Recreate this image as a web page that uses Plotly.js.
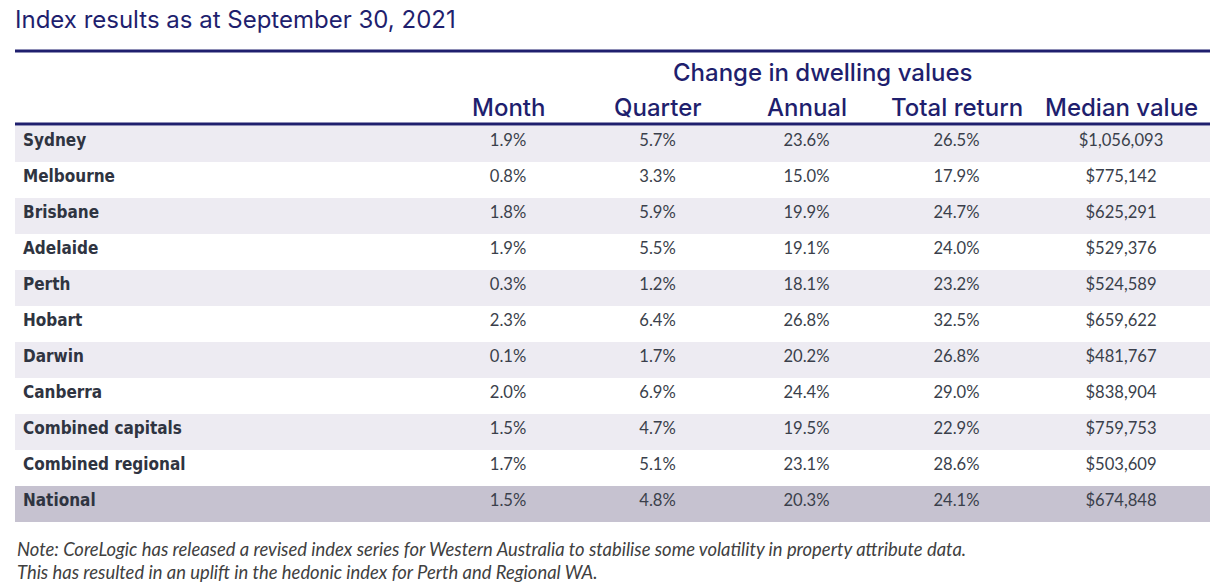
<!DOCTYPE html>
<html><head><meta charset="utf-8">
<script src="https://cdn.plot.ly/plotly-3.0.1.min.js"></script>
<style>html,body{margin:0;padding:0;background:#fff}#chart{width:1217px;height:586px}</style>
</head><body><div id="chart"></div>
<script>
const regions = ['Sydney','Melbourne','Brisbane','Adelaide','Perth','Hobart','Darwin','Canberra','Combined capitals','Combined regional','National'];
const monthChange = [1.9,0.8,1.8,1.9,0.3,2.3,0.1,2.0,1.5,1.7,1.5];
const quarterChange = [5.7,3.3,5.9,5.5,1.2,6.4,1.7,6.9,4.7,5.1,4.8];
const annualChange = [23.6,15.0,19.9,19.1,18.1,26.8,20.2,24.4,19.5,23.1,20.3];
const totalReturn = [26.5,17.9,24.7,24.0,23.2,32.5,26.8,29.0,22.9,28.6,24.1];
const medianValue = [1056093,775142,625291,529376,524589,659622,481767,838904,759753,503609,674848];
const columnHeaders = ['', 'Month', 'Quarter', 'Annual', 'Total return', 'Median value'];
const groupHeader = 'Change in dwelling values';
const noteLines = [
  'Note: CoreLogic has released a revised index series for Western Australia to stabilise some volatility in property attribute data.',
  'This has resulted in an uplift in the hedonic index for Perth and Regional WA.'
];

const W = 1217, H = 586;
const navy = '#1f1f6e';
const pct = a => a.map(v => v.toFixed(1) + '%');
const money = a => a.map(v => '$' + v.toLocaleString('en-US'));

const rowFill = regions.map((r, i) => r === 'National' ? '#c6c2d0' : (i % 2 === 0 ? '#edebf2' : '#ffffff'));
const fills = columnHeaders.map(() => rowFill);

const px = x => x / W;
const py = y => 1 - y / H;

const tableLeft = 15, tableRight = 1210;
const colWidths = [418, 150, 149, 149, 151, 178];
const totalW = colWidths.reduce((a, b) => a + b, 0);
const colCenters = [];
{ let acc = tableLeft; colWidths.forEach(w => { const pw = w / totalW * (tableRight - tableLeft); colCenters.push(acc + pw / 2); acc += pw; }); }

const headerSpacer = 20;
const bodyTop = 125.5;
const labelFamily = "'DejaVu Sans Condensed', Roboto, sans-serif";
const numFamily = 'Lato, sans-serif';
const trace = {
  type: 'table',
  domain: {x: [px(tableLeft), px(tableRight)], y: [py(548), py(bodyTop - headerSpacer)]},
  columnwidth: colWidths,
  header: {
    values: columnHeaders.map(() => ''),
    height: headerSpacer,
    fill: {color: 'rgba(255,255,255,0)'},
    line: {width: 0, color: 'rgba(255,255,255,0)'},
    font: {size: 2, color: '#ffffff'}
  },
  cells: {
    values: [regions, pct(monthChange), pct(quarterChange), pct(annualChange), pct(totalReturn), money(medianValue)],
    align: ['left', 'center', 'center', 'center', 'center', 'center'],
    height: 36,
    fill: {color: fills},
    line: {width: 0, color: 'rgba(0,0,0,0)'},
    font: {
      family: [labelFamily, numFamily, numFamily, numFamily, numFamily, numFamily],
      size: [17, 16.6, 16.6, 16.6, 16.6, 16.6],
      weight: [700, 400, 400, 400, 400, 400],
      color: ['#2f3441', '#3a3f4b', '#3a3f4b', '#3a3f4b', '#3a3f4b', '#3a3f4b']
    }
  }
};

const headFont = {family: 'Inter, Noto Sans, sans-serif', size: 24, color: navy, weight: 500};
const annotations = [
  {text: groupHeader, xref: 'paper', yref: 'paper', x: px(822), y: py(72), xanchor: 'center', yanchor: 'middle', showarrow: false, font: headFont}
];
columnHeaders.forEach((h, i) => {
  if (!h) return;
  annotations.push({text: h, xref: 'paper', yref: 'paper', x: px(colCenters[i]), y: py(108), xanchor: 'center', yanchor: 'middle', showarrow: false, font: headFont});
});
noteLines.forEach((t, i) => {
  annotations.push({text: '<i>' + t + '</i>', xref: 'paper', yref: 'paper', x: px(15), y: py(549 + 23 * i), xanchor: 'left', yanchor: 'middle', showarrow: false,
    font: {family: 'Lato, sans-serif', size: 18.4, color: '#404040'}});
});

const layout = {
  width: W, height: H,
  margin: {l: 0, r: 0, t: 0, b: 0},
  paper_bgcolor: '#ffffff',
  title: {
    text: 'Index results as at September 30, 2021',
    x: px(15), xanchor: 'left', xref: 'paper',
    y: py(20), yanchor: 'middle', yref: 'container',
    font: {family: 'Inter, Noto Sans, sans-serif', size: 24, color: navy}
  },
  shapes: [
    {type: 'line', xref: 'paper', yref: 'paper', x0: px(15), x1: px(1210), y0: py(51), y1: py(51), line: {color: navy, width: 3}},
    {type: 'line', xref: 'paper', yref: 'paper', x0: px(15), x1: px(1210), y0: py(124), y1: py(124), line: {color: navy, width: 3}}
  ],
  annotations: annotations
};

Plotly.newPlot('chart', [trace], layout, {displayModeBar: false, staticPlot: true});
</script>
</body></html>
